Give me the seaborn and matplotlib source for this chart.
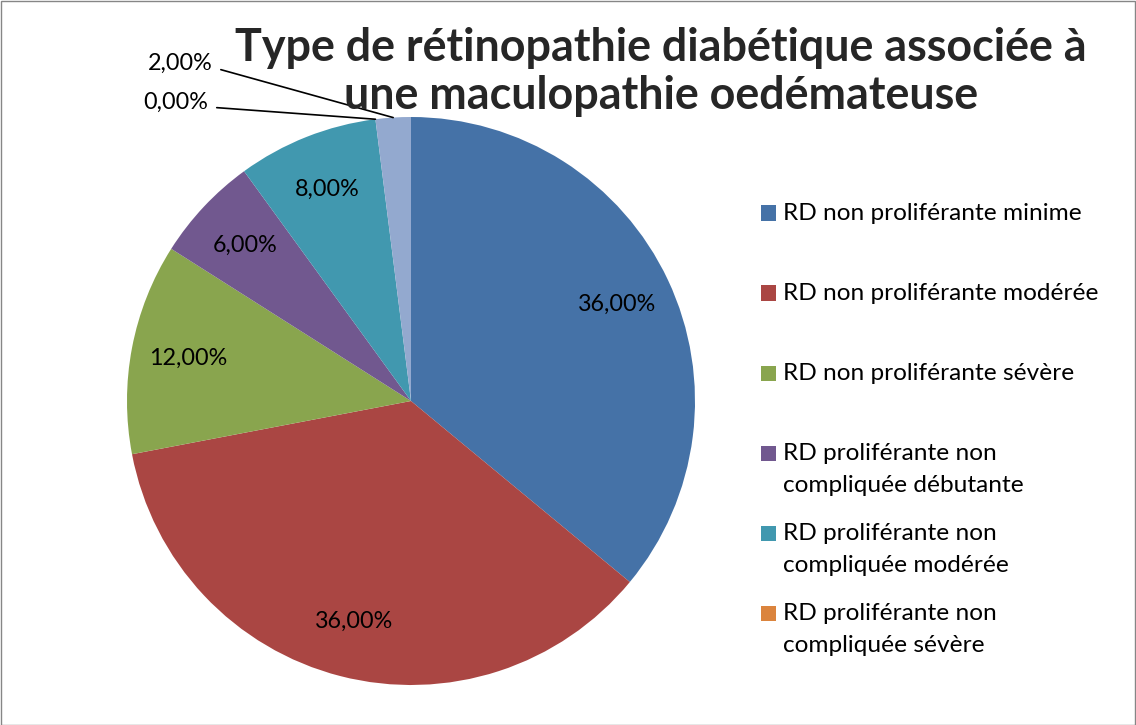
import matplotlib
matplotlib.use("Agg")
import matplotlib.pyplot as plt
from matplotlib.patches import Rectangle
import numpy as np
import seaborn as sns

# data
categories = [
    "RD non proliférante minime",
    "RD non proliférante modérée",
    "RD non proliférante sévère",
    "RD proliférante non\ncompliquée débutante",
    "RD proliférante non\ncompliquée modérée",
    "RD proliférante non\ncompliquée sévère",
    "RD proliférante compliquée",
]
values = [36, 36, 12, 6, 8, 0, 2]
colors = ["#4572A7", "#AA4643", "#89A54E", "#71588F", "#4198AF", "#DB843D", "#93A9CF"]
n_legend = 6  # last category is not shown in the legend

sns.set_theme(style="white")
plt.rcParams["font.family"] = ["Lato", "DejaVu Sans"]

W, H = 1136, 725
fig = plt.figure(figsize=(W / 100, H / 100), dpi=100)
fig.patch.set_facecolor("white")

# pie: centre (411, 401) px, radius 284 px
cx, cy, r = 411, 401, 284
ax = fig.add_axes([(cx - r) / W, (H - cy - r) / H, 2 * r / W, 2 * r / H])
wedges, _ = ax.pie(values, colors=sns.color_palette(colors), startangle=90,
                   counterclock=False, radius=1.0, wedgeprops=dict(linewidth=0))
ax.set_xlim(-1, 1)
ax.set_ylim(-1, 1)
ax.set_aspect("equal")
ax.axis("off")


def fmt(v):
    return f"{v / sum(values) * 100:.2f}%".replace(".", ",")


# outside labels for the tiny slices (label position in axes data units)
outside = {6: (-0.70, 1.19), 5: (-0.715, 1.05)}
for i, w in enumerate(wedges):
    ang = np.deg2rad((w.theta1 + w.theta2) / 2)
    if i in outside:
        tx, ty = outside[i]
        ax.annotate(fmt(values[i]), xy=(np.cos(ang), np.sin(ang)), xytext=(tx, ty),
                    ha="right", va="center", fontsize=16.8, color="black",
                    annotation_clip=False,
                    arrowprops=dict(arrowstyle="-", color="black", lw=1.2,
                                    shrinkA=4, shrinkB=0, relpos=(1, 0.3)))
    else:
        d = 0.8
        ax.text(d * np.cos(ang), d * np.sin(ang), fmt(values[i]), ha="center",
                va="center", fontsize=16.8, color="black")

# title
fig.text(661 / W, (H - 72) / H,
         "Type de rétinopathie diabétique associée à\nune maculopathie oedémateuse",
         ha="center", va="center", fontsize=32.3, fontweight="bold", linespacing=1.2)

# legend
for i in range(n_legend):
    y0 = 213 + 80 * i
    fig.patches.append(Rectangle(((761) / W, (H - y0 - 7.5) / H), 15 / W, 15 / H,
                                 transform=fig.transFigure, facecolor=colors[i],
                                 edgecolor="none"))
    for j, line in enumerate(categories[i].split("\n")):
        fig.text(783 / W, (H - y0 - 32 * j) / H, line, ha="left", va="center",
                 fontsize=17.6, color="black")

# chart border
fig.patches.append(Rectangle((0.5 / W, 0.5 / H), (W - 1.5) / W, (H - 1.5) / H,
                             transform=fig.transFigure, facecolor="none",
                             edgecolor="#868686", linewidth=1))

fig.savefig("out.png", dpi=100)
